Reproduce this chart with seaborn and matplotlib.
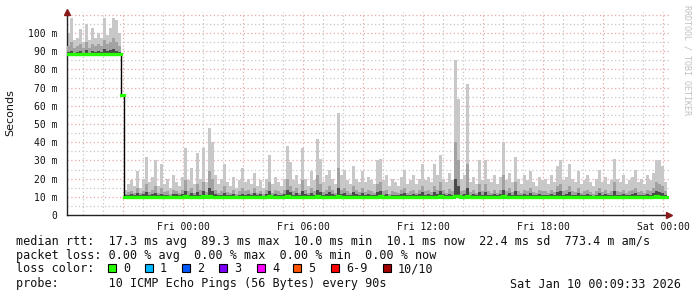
import numpy as np
import pandas as pd
import matplotlib
matplotlib.use("Agg")
import matplotlib.pyplot as plt
from matplotlib.ticker import MultipleLocator, FuncFormatter
import seaborn as sns

# ---------------- data (values in ms, time in hours relative to Fri 00:00) ----------------
start_hour = -5.8          # Thu 18:12
step_hours = 0.15          # one sample every 9 minutes (consolidated)

median_pre = [88.3, 88.3, 88.3, 88.3, 88.3, 88.3, 88.3, 88.2, 88.3, 88.3,
              88.3, 88.2, 88.3, 88.3, 88.2, 88.3, 88.3, 88.3]
max_pre = [100, 108, 96, 97, 102, 95, 105, 96, 103, 97, 100, 97, 108, 99, 103, 108, 107, 100]
mid_pre = [93, 95, 92, 93, 94, 92, 95, 92, 94, 93, 94, 93, 96, 94, 95, 97, 95, 93]
low_pre = [89.5, 90, 89, 89.5, 90, 89, 90.5, 89, 90, 89.5, 90, 89.5, 91, 90, 90.5, 91, 90, 89.5]

median_step = [66.0]
max_step = [66.0]
mid_step = [66.0]
low_step = [66.0]

median_post = [
    10.1, 10.1, 10.1, 10.1, 10.1, 10.1, 10.1, 10.1, 10.1, 10.1,
    10.1, 10.1, 10.1, 10.1, 10.1, 10.1, 10.1, 10.1, 10.1, 10.1,
    10.2, 10.1, 10.1, 10.1, 10.1, 10.1, 10.2, 10.1, 10.2, 10.1,
    10.1, 10.1, 10.1, 10.1, 10.1, 10.1, 10.1, 10.1, 10.1, 10.1,
    10.1, 10.1, 10.1, 10.1, 10.1, 10.1, 10.1, 10.1, 10.2, 10.1,
    10.1, 10.1, 10.1, 10.1, 10.2, 10.1, 10.1, 10.1, 10.1, 10.1,
    10.1, 10.1, 10.1, 10.1, 10.3, 10.1, 10.1, 10.1, 10.1, 10.1,
    10.1, 10.2, 10.1, 10.1, 10.1, 10.1, 10.1, 10.1, 10.1, 10.1,
    10.1, 10.1, 10.1, 10.1, 10.1, 10.2, 10.1, 10.1, 10.1, 10.1,
    10.1, 10.1, 10.1, 10.1, 10.1, 10.1, 10.1, 10.1, 10.1, 10.1,
    10.1, 10.1, 10.1, 10.1, 10.1, 10.2, 10.1, 10.1, 10.1, 10.1,
    10.2, 10.2, 10.1, 10.1, 10.2, 10.1, 10.1, 10.1, 10.1, 10.1,
    10.1, 10.1, 10.1, 10.1, 10.1, 10.1, 10.2, 10.1, 10.1, 10.1,
    10.1, 10.1, 10.1, 10.1, 10.1, 10.1, 10.1, 10.1, 10.1, 10.1,
    10.1, 10.1, 10.1, 10.1, 10.1, 10.1, 10.1, 10.1, 10.1, 10.1,
    10.1, 10.1, 10.1, 10.1, 10.1, 10.1, 10.0, 10.1, 10.1, 10.1,
    10.1, 10.1, 10.1, 10.1, 10.1, 10.1, 10.1, 10.1, 10.1, 10.1,
    10.1, 10.1, 10.1, 10.1, 10.1, 10.1, 10.1, 10.2, 10.1, 10.1,
    10.1]

max_post = [
    14, 17, 19, 16, 24, 15, 20, 32, 18, 21,
    30, 16, 28, 17, 20, 15, 22, 18, 16, 21,
    37, 19, 26, 17, 34, 20, 37, 18, 48, 40,
    22, 17, 20, 28, 18, 16, 21, 15, 19, 26,
    18, 20, 17, 23, 16, 19, 15, 20, 33, 17,
    21, 18, 16, 20, 38, 29, 19, 22, 17, 37,
    20, 16, 24, 19, 42, 31, 18, 22, 25, 20,
    17, 56, 22, 25, 19, 17, 27, 20, 18, 24,
    18, 21, 19, 17, 30, 31, 19, 22, 16, 20,
    18, 16, 21, 25, 17, 19, 22, 17, 20, 28,
    19, 21, 18, 28, 22, 33, 20, 18, 23, 19,
    85, 64, 20, 22, 72, 18, 21, 17, 30, 19,
    30, 20, 18, 22, 17, 21, 40, 19, 23, 18,
    32, 20, 17, 22, 19, 24, 18, 16, 21, 19,
    20, 17, 22, 18, 27, 30, 19, 21, 28, 20,
    18, 24, 17, 19, 22, 18, 16, 20, 25, 18,
    21, 17, 19, 31, 20, 18, 22, 17, 19, 21,
    25, 18, 20, 17, 22, 19, 23, 30, 30, 27,
    18]

mid_post = [
    11.5, 12.5, 13, 12, 15, 12, 13, 17, 12.5, 14,
    16, 12, 15, 12.5, 13, 11.5, 14, 13, 12, 14,
    19, 13, 15, 12, 17, 13.5, 18, 12.5, 24, 20,
    14, 12, 13, 16, 12.5, 12, 14, 11.5, 13, 15,
    13, 14, 12, 15, 12, 13, 11.5, 14, 18, 12,
    14, 13, 12, 14, 20, 16, 13, 15, 12, 19,
    14, 12, 15, 13, 22, 17, 12.5, 14, 16, 13.5,
    12, 26, 14, 15, 13, 12, 16, 13.5, 12.5, 15,
    12.5, 14, 13, 12, 17, 18, 13, 14, 11.5, 13,
    12.5, 12, 14, 15, 12, 13, 14, 12, 13.5, 16,
    13, 14, 12.5, 16, 14, 18, 13.5, 12, 14.5, 13,
    40, 30, 13, 14, 28, 12.5, 14, 12, 17, 13,
    17, 13, 12, 14, 12, 13.5, 22, 13, 15, 12.5,
    18, 13, 12, 14, 13, 15, 12.5, 12, 14, 13,
    13, 12, 14, 12.5, 16, 17, 13, 14, 16, 13,
    12.5, 15, 12, 13, 14, 12.5, 11.5, 13, 15, 12.5,
    14, 12, 13, 18, 13, 12.5, 14, 12, 13, 14,
    15, 12.5, 13, 12, 14, 13, 15, 18, 17, 16,
    13]

low_post = [
    10.8, 11.2, 11.5, 11, 12, 10.9, 11.4, 12.5, 11, 11.6,
    12, 10.8, 11.8, 11.2, 11, 10.7, 11.5, 11.3, 10.9, 11.4,
    13, 11, 12, 10.8, 12.5, 11.2, 13, 11, 15, 13,
    11.5, 10.9, 11.2, 12, 11, 10.8, 11.5, 10.7, 11.2, 11.8,
    11.2, 11.6, 10.9, 12, 11, 11.3, 10.7, 11.5, 13, 11,
    11.5, 11.2, 10.9, 11.4, 14, 12.5, 11.2, 12, 11, 13,
    11.5, 10.9, 12, 11.2, 14, 12.5, 11, 11.6, 12.5, 11.3,
    11, 15, 11.5, 12, 11.2, 10.9, 12.5, 11.4, 11, 12,
    11, 11.6, 11.2, 10.9, 12.5, 13, 11.2, 11.5, 10.7, 11.2,
    11, 10.9, 11.5, 12, 11, 11.2, 11.6, 11, 11.4, 12.5,
    11.2, 11.6, 11, 12.5, 11.5, 13, 11.4, 11, 11.8, 11.2,
    20, 16, 11.2, 11.6, 15, 11, 11.5, 11, 12.5, 11.2,
    12.5, 11.2, 11, 11.6, 11, 11.4, 14, 11.2, 12, 11,
    13, 11.2, 11, 11.5, 11.2, 12, 11, 10.9, 11.5, 11.2,
    11.2, 11, 11.6, 11, 12.5, 13, 11.2, 11.6, 12.5, 11.2,
    11, 12, 10.9, 11.2, 11.5, 11, 10.7, 11.2, 12, 11,
    11.5, 11, 11.2, 13, 11.2, 11, 11.5, 10.9, 11.2, 11.5,
    12, 11, 11.2, 10.9, 11.5, 11.2, 12, 13, 12.5, 12,
    11.2]

x_tick_hours = [0, 6, 12, 18, 24]
x_tick_labels = ["Fri 00:00", "Fri 06:00", "Fri 12:00", "Fri 18:00", "Sat 00:00"]
y_tick_values = [0, 10, 20, 30, 40, 50, 60, 70, 80, 90, 100]
y_tick_labels = ["0", "10 m", "20 m", "30 m", "40 m", "50 m", "60 m", "70 m", "80 m", "90 m", "100 m"]

loss_labels = ["0", "1", "2", "3", "4", "5", "6-9", "10/10"]
loss_colors = ["#26ff00", "#00b8ff", "#0059ff", "#7e00ff", "#ff00ff", "#ff5500", "#ff0000", "#a10000"]

legend_lines = [
    "median rtt:  17.3 ms avg  89.3 ms max  10.0 ms min  10.1 ms now  22.4 ms sd  773.4 m am/s",
    "packet loss: 0.00 % avg  0.00 % max  0.00 % min  0.00 % now",
    "loss color:",
    "probe:       10 ICMP Echo Pings (56 Bytes) every 90s",
]
timestamp_text = "Sat Jan 10 00:09:33 2026"
watermark = "RRDTOOL / TOBI OETIKER"

# ---------------- assemble ----------------
median = np.array(median_pre + median_step + median_post, dtype=float)
smoke_max = np.array(max_pre + max_step + max_post, dtype=float)
smoke_mid = np.minimum(np.array(mid_pre + mid_step + mid_post, dtype=float), smoke_max)
smoke_low = np.minimum(np.array(low_pre + low_step + low_post, dtype=float), smoke_mid)
n = len(median)
t = start_hour + step_hours * np.arange(n + 1)   # step edges
med_e = np.append(median, median[-1])
df = pd.DataFrame({"t": t, "median": med_e})

# ---------------- figure ----------------
W, H = 697, 297
fig = plt.figure(figsize=(W / 100, H / 100), dpi=100)
sns.set_style("white")
plt.rcParams["font.family"] = ["DejaVu Sans Mono", "DejaVu Sans"]

ax_left, ax_right, ax_top, ax_bottom = 67, 669, 12, 215
ax = fig.add_axes([ax_left / W, 1 - ax_bottom / H, (ax_right - ax_left) / W, (ax_bottom - ax_top) / H])
ax.set_facecolor("white")
ax.set_xlim(start_hour, start_hour + (ax_right - ax_left) / 20.0)
ax.set_ylim(0, (ax_bottom - ax_top) / 1.82)

# grid
ax.xaxis.set_major_locator(MultipleLocator(3))
ax.xaxis.set_minor_locator(MultipleLocator(1))
ax.yaxis.set_major_locator(MultipleLocator(10))
ax.yaxis.set_minor_locator(MultipleLocator(5))
ax.grid(which="major", color="#eaa8a8", linestyle=(0, (1, 2)), linewidth=0.9)
ax.grid(which="minor", color="#c6c6c6", linestyle=(0, (1, 2)), linewidth=0.9)
ax.set_axisbelow(True)

xlab = dict(zip(x_tick_hours, x_tick_labels))
ax.xaxis.set_major_formatter(FuncFormatter(lambda v, p: xlab.get(int(round(v)), "") if abs(v - round(v)) < 1e-6 else ""))
ylab = dict(zip(y_tick_values, y_tick_labels))
ax.yaxis.set_major_formatter(FuncFormatter(lambda v, p: ylab.get(int(round(v)), "")))

# smoke
ax.fill_between(t, med_e, np.append(smoke_max, smoke_max[-1]),
                step="post", color="#c8c8c8", linewidth=0, zorder=2)
ax.fill_between(t, med_e, np.append(smoke_mid, smoke_mid[-1]),
                step="post", color="#a2a2a2", linewidth=0, zorder=3)
ax.fill_between(t, med_e, np.append(smoke_low, smoke_low[-1]),
                step="post", color="#4a4a4a", linewidth=0, zorder=4)

# median line: thin black step connector, green horizontal levels on top
sns.lineplot(data=df, x="t", y="median", ax=ax, color="black", linewidth=1.0,
             drawstyle="steps-post", zorder=5)
lc = ax.hlines(median, t[:-1], t[1:], colors="#26ff00", linewidth=2.3, zorder=6)
lc.set_capstyle("projecting")
ax.set_xlabel("")
ax.set_ylabel("")

# spines / ticks
for s in ["top", "right"]:
    ax.spines[s].set_visible(False)
for s in ["left", "bottom"]:
    ax.spines[s].set_color("#222222")
    ax.spines[s].set_linewidth(1.0)
ax.tick_params(axis="both", which="major", length=2, width=0.8, color="#444444",
               labelsize=7, labelcolor="#111111")
ax.tick_params(axis="both", which="minor", length=0)
ax.tick_params(axis="x", pad=3)
ax.tick_params(axis="y", pad=5)
ax.plot([1.0], [0], marker=">", markersize=4.5, color="#8b1a1a", transform=ax.transAxes, clip_on=False, zorder=10)
ax.plot([0], [1.0], marker="^", markersize=4.5, color="#8b1a1a", transform=ax.transAxes, clip_on=False, zorder=10)

# y label
fig.text(10 / W, 1 - 113 / H, "Seconds", rotation=90, ha="center", va="center",
         fontsize=8, family="DejaVu Sans", color="#111111")

# watermark
fig.text(687 / W, 1 - 5 / H, watermark, rotation=270, ha="center", va="top",
         fontsize=6, color="#c0c0c0")

# legend text
ys = [241, 255, 269, 284]
for line, y in zip(legend_lines, ys):
    fig.text(16 / W, 1 - y / H, line, ha="left", va="center", fontsize=8.5, color="#111111")
fig.text(681 / W, 1 - 284 / H, timestamp_text, ha="right", va="center", fontsize=8.5, color="#111111")

sw_x = [108, 145, 182, 219, 257, 293, 331, 383]
for xs, lab, col in zip(sw_x, loss_labels, loss_colors):
    fig.patches.append(plt.Rectangle((xs / W, 1 - 272 / H), 8 / W, 8 / H, transform=fig.transFigure,
                                     facecolor=col, edgecolor="black", linewidth=0.8))
    fig.text((xs + 15) / W, 1 - 269 / H, lab, ha="left", va="center", fontsize=8.5, color="#111111")

fig.savefig("out.png", dpi=100, facecolor="white")
